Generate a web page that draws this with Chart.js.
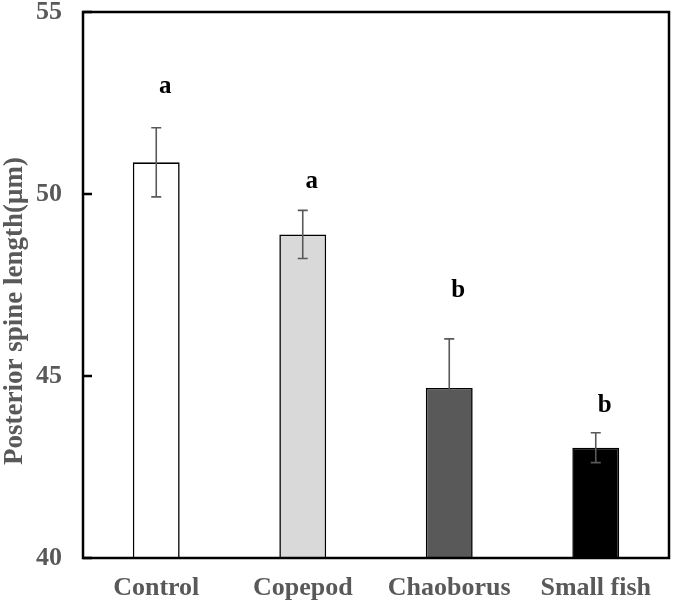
<!DOCTYPE html>
<html>
<head>
<meta charset="utf-8">
<script src="https://cdn.jsdelivr.net/npm/chart.js@4"></script>
<style>
  html, body { margin: 0; padding: 0; background: #fff; }
  #wrap { width: 675px; height: 605px; }
</style>
</head>
<body>
<div id="wrap"><canvas id="canva"></canvas></div>
<script>
// datos
var grupos = ["Control", "Copepod", "Chaoborus", "Small fish"];
var medias = [50.87, 48.89, 44.67, 43.03];
var errores = [0.95, 0.66, 1.35, 0.41];
var letras = ["a", "a", "b", "b"];
var letrasY = [52.94, 50.33, 47.36, 44.18];
var colores = ["#ffffff", "#d9d9d9", "#595959", "#000000"];
var marcasY = [40, 45, 50, 55];
var tituloY = "Posterior spine length(\u03bcm)";

var gris = "#595959";
var fuente = "'Liberation Serif', 'Times New Roman', serif";

// barras de error, letras, marco, marcas del eje y titulo del eje y
const extras = {
    id: "extras",
    afterDatasetsDraw(chart) {
        const c = chart.ctx;
        const x = chart.scales.x, y = chart.scales.y;
        const area = chart.chartArea;
        c.save();
        c.strokeStyle = gris;
        c.lineWidth = 1.6;
        for (let i = 0; i < medias.length; i++) {
            let px = x.getPixelForValue(i);
            let yt = y.getPixelForValue(medias[i] + errores[i]);
            let yb = y.getPixelForValue(medias[i] - errores[i]);
            c.beginPath();
            c.moveTo(px, yt); c.lineTo(px, yb);
            c.moveTo(px - 5, yt); c.lineTo(px + 5, yt);
            c.moveTo(px - 5, yb); c.lineTo(px + 5, yb);
            c.stroke();
        }
        c.fillStyle = "#000";
        c.font = "bold 25px " + fuente;
        c.textAlign = "center";
        c.textBaseline = "middle";
        for (let i = 0; i < letras.length; i++) {
            c.fillText(letras[i], x.getPixelForValue(i) + 9, y.getPixelForValue(letrasY[i]));
        }
        // marcas hacia dentro
        c.strokeStyle = "#000";
        c.lineWidth = 2.5;
        for (let i = 0; i < marcasY.length; i++) {
            let py = y.getPixelForValue(marcasY[i]);
            c.beginPath();
            c.moveTo(area.left, py); c.lineTo(area.left + 9, py);
            c.stroke();
        }
        c.strokeRect(area.left, area.top, area.right - area.left, area.bottom - area.top);
        // titulo del eje y, un poco por debajo del centro como en la figura
        c.translate(15, (area.top + area.bottom) / 2 + 26);
        c.rotate(-Math.PI / 2);
        c.fillStyle = gris;
        c.font = "bold 27px " + fuente;
        c.fillText(tituloY, 0, 0);
        c.restore();
    }
};

const ctx = document.getElementById("canva");
const myChart = new Chart(ctx, {
    type: "bar",
    data: {
        labels: grupos,
        datasets: [{
            data: medias,
            backgroundColor: colores,
            borderColor: "#000",
            borderWidth: 1.6,
            borderSkipped: false,
            barPercentage: 0.32,
            categoryPercentage: 1
        }]
    },
    options: {
        responsive: true,
        maintainAspectRatio: false,
        animation: false,
        layout: { padding: { top: 12, right: 6, left: 0, bottom: 0 } },
        plugins: {
            legend: { display: false },
            tooltip: { enabled: false }
        },
        scales: {
            x: {
                grid: { display: false, drawTicks: false },
                border: { display: false },
                ticks: { color: gris, padding: 15, font: { family: fuente, size: 26, weight: "bold" } },
                afterFit: function (s) { s.height = 47; s.paddingLeft = 0; s.paddingRight = 0; }
            },
            y: {
                min: 40,
                max: 55,
                grid: { display: false, drawTicks: false },
                border: { display: false },
                ticks: {
                    stepSize: 5,
                    color: gris,
                    padding: 21,
                    font: { family: fuente, size: 26, weight: "bold" }
                },
                afterFit: function (s) { s.width = 83; s.paddingTop = 0; s.paddingBottom = 0; }
            }
        }
    },
    plugins: [extras]
});
</script>
</body>
</html>
